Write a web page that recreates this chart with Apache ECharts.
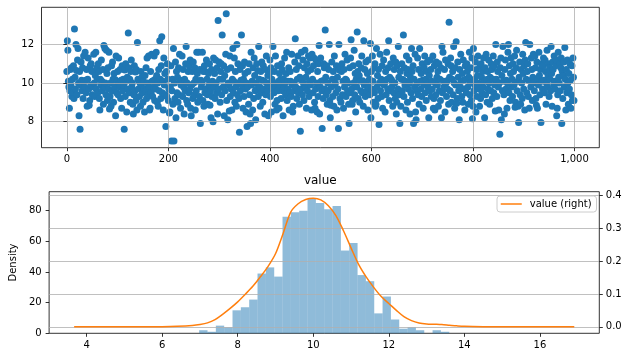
<!DOCTYPE html>
<html><head><meta charset="utf-8">
<script src="https://cdn.jsdelivr.net/npm/echarts@6/dist/echarts.min.js"></script>
<style>html,body{margin:0;padding:0;background:#fff}#c{width:628px;height:357px}</style>
</head><body><div id="c"></div>
<script>
// ---- data ----
const scatterValues = [
10.6,12.2,11.7,10.1,9.8,8.7,9.6,10.7,9.9,10.8,9.3,10.2,9.5,10.9,9.2,12.8,10.3,9.7,12.0,10.65,
9.4,11.2,11.8,10.0,8.3,10.6,7.6,9.9,11.1,10.15,9.6,10.8,9.2,11.4,10.1,9.8,11.6,10.15,9.5,10.7,
8.8,10.2,11.3,9.7,8.85,9.1,10.9,9.9,11.0,10.62,9.4,10.6,9.8,11.5,10.0,9.3,10.4,11.6,9.7,10.8,
10.2,9.5,11.0,10.6,9.2,8.6,10.2,9.9,11.2,10.1,9.6,10.7,8.9,11.95,9.8,11.8,10.0,9.4,11.7,10.5,
9.1,10.8,9.7,11.6,8.65,9.3,10.0,8.8,10.9,9.6,11.1,10.2,9.0,10.5,9.8,10.18,8.3,11.4,9.5,10.1,
10.6,9.4,11.3,10.0,9.8,10.7,9.2,10.15,8.7,10.9,9.6,10.2,9.9,7.6,10.68,9.3,11.0,10.1,8.5,10.3,
9.7,12.6,10.8,9.5,10.2,9.0,10.6,11.2,9.8,10.0,8.9,8.4,9.4,10.9,9.6,10.58,9.1,10.7,8.6,12.1,
10.2,9.7,10.12,9.3,10.0,8.8,10.6,9.9,10.3,9.5,9.0,10.1,9.7,8.5,10.4,9.6,10.8,9.2,11.3,10.0,
9.4,11.4,9.8,8.6,8.7,10.6,9.5,11.5,10.1,9.3,10.12,9.8,11.4,9.1,10.2,9.7,11.6,10.4,9.0,10.0,
8.8,10.7,9.6,12.2,10.2,9.2,10.9,12.4,9.5,10.1,8.6,11.3,9.9,10.5,9.4,7.75,10.6,9.3,11.0,10.2,
9.1,9.7,8.45,8.5,9.8,10.9,7.0,9.6,10.2,8.9,11.8,7.0,10.0,9.2,11.1,8.2,10.6,9.5,10.3,9.0,
10.8,9.4,11.5,10.1,8.7,9.9,10.15,11.4,9.3,10.7,9.8,8.4,10.2,9.6,11.0,11.9,9.1,10.0,8.9,10.6,
9.5,10.9,9.7,11.2,8.7,8.3,9.9,10.6,9.2,11.1,10.0,9.4,10.8,8.6,10.2,9.6,11.6,10.5,9.0,10.1,
11.6,9.3,10.7,7.9,10.15,9.8,10.0,11.6,9.1,10.6,8.8,10.9,9.5,10.6,9.7,11.2,10.2,9.4,8.9,10.5,
9.9,11.0,8.85,9.6,8.2,10.7,9.3,10.1,8.0,11.3,9.8,10.5,9.2,11.2,10.0,9.5,10.8,8.4,13.25,9.7,
11.1,10.2,9.0,10.6,11.0,9.4,12.5,10.2,9.8,10.9,8.3,10.4,9.6,11.5,13.6,9.1,10.7,8.1,10.0,9.9,
8.55,11.4,9.3,10.8,9.7,8.6,10.2,11.8,9.5,10.1,11.3,9.0,10.6,9.8,8.8,12.0,9.4,11.0,10.0,9.2,
7.45,10.7,9.6,10.15,12.5,9.9,10.9,8.7,10.2,9.3,11.1,10.5,9.7,8.5,10.0,7.75,9.8,10.6,8.9,11.0,
9.4,8.4,7.9,11.6,9.9,10.1,8.6,10.8,9.2,11.3,10.4,9.6,8.1,10.0,11.0,9.7,10.65,9.3,11.9,10.2,
9.8,8.8,10.6,9.5,11.1,10.15,9.0,10.9,9.7,10.1,8.4,10.7,9.4,11.4,10.0,9.6,10.4,8.3,9.9,10.5,
11.2,9.3,10.8,8.5,10.2,9.7,11.9,10.0,9.5,10.6,8.9,11.4,9.8,8.6,9.1,10.9,9.6,10.1,8.7,10.5,
9.9,10.18,9.2,11.0,10.7,9.6,8.3,10.2,9.8,11.3,10.0,9.4,10.5,11.6,9.1,10.1,9.7,10.8,8.6,9.5,
10.6,10.1,9.3,11.5,9.9,8.5,8.8,10.0,9.6,11.1,12.3,9.8,10.7,9.2,10.2,11.4,9.5,10.9,8.9,10.3,
7.5,9.7,11.6,10.15,9.4,11.2,10.0,9.1,10.8,11.7,9.8,10.3,8.7,11.0,9.6,10.6,11.4,9.3,10.1,11.3,
9.9,10.7,8.6,11.5,10.2,9.5,10.9,11.3,9.0,8.7,9.7,11.2,10.0,8.5,10.6,9.3,11.0,11.95,8.4,9.8,
11.3,10.1,9.6,7.65,10.12,9.2,11.0,10.8,9.7,12.75,10.3,9.4,10.9,8.9,10.0,9.6,10.7,12.0,9.1,8.2,
8.85,9.8,11.1,10.2,9.3,10.6,8.8,11.4,9.9,10.0,9.5,10.9,8.6,10.3,9.7,7.65,12.0,10.68,9.2,10.8,
9.0,10.6,11.0,9.4,10.1,8.7,10.7,9.8,11.5,10.2,9.3,10.15,11.2,9.6,10.0,8.9,7.9,10.8,9.5,11.3,
12.25,9.7,8.9,9.1,10.9,10.0,11.7,9.4,10.5,8.5,10.2,9.8,12.65,10.6,9.2,11.0,10.4,9.0,10.1,9.6,
10.8,11.4,9.5,10.12,8.8,12.2,9.9,10.7,9.3,11.1,10.0,9.6,10.5,8.6,11.2,9.8,10.2,9.4,12.05,8.2,
10.6,9.7,11.4,10.1,9.0,10.8,9.5,11.0,8.8,8.9,11.8,9.8,10.4,9.2,10.7,7.85,10.0,11.5,9.6,10.2,
9.3,10.9,8.7,10.15,11.2,9.9,10.0,8.5,10.6,9.4,11.6,10.2,9.7,10.8,12.2,9.1,10.3,9.6,11.0,10.2,
9.8,10.1,8.8,11.3,9.5,10.7,10.0,9.2,11.1,8.4,9.0,10.9,9.7,11.9,10.3,9.4,7.9,10.6,8.8,10.2,
11.0,9.6,10.18,12.5,9.3,10.8,9.9,10.1,8.6,11.4,10.5,9.0,10.7,9.7,11.2,10.0,8.4,10.3,9.5,11.8,
10.6,9.2,10.9,7.9,10.2,9.8,11.5,8.5,8.1,9.6,10.0,11.3,9.4,10.7,8.9,11.8,10.1,9.7,10.5,9.3,
11.0,10.15,8.7,9.9,10.8,11.4,9.5,10.2,9.1,10.6,11.1,9.8,10.0,8.2,10.4,9.6,11.2,10.7,9.3,10.1,
9.7,11.4,8.7,9.2,10.9,8.6,10.0,9.4,11.1,10.3,9.9,10.6,8.8,11.0,9.6,10.2,9.1,10.8,8.2,11.9,
9.5,11.6,10.1,9.8,10.7,8.5,11.2,10.0,9.3,10.12,9.7,11.0,8.9,13.15,10.3,9.6,11.3,10.9,9.0,10.2,
10.6,9.4,11.9,10.0,8.7,10.8,9.9,12.15,8.95,9.2,11.1,10.3,9.6,8.1,10.7,9.8,11.5,10.1,9.3,10.5,
9.0,11.2,10.15,9.7,8.6,10.9,10.2,9.5,11.0,10.6,9.8,8.9,10.3,11.6,9.4,10.0,10.8,9.1,11.3,8.15,
8.8,11.8,9.6,10.2,9.9,11.1,8.5,10.7,9.3,10.4,11.4,10.0,9.7,8.8,10.9,9.2,11.0,10.3,9.5,10.6,
9.8,11.3,10.1,8.2,10.8,9.4,11.5,10.18,9.0,10.6,9.7,11.2,10.0,8.9,10.3,9.6,11.0,10.7,9.2,10.2,
11.4,9.5,10.9,9.9,8.55,12.0,10.2,9.3,11.1,10.6,9.8,8.6,10.0,7.35,10.8,11.3,8.1,10.4,9.6,11.9,
10.1,9.4,8.4,10.7,11.2,9.7,10.15,8.7,10.0,11.6,12.0,9.5,10.9,9.1,10.5,11.3,9.8,10.2,9.3,11.0,
10.6,9.9,11.4,8.75,9.0,10.8,11.7,9.6,10.1,8.8,7.95,10.3,11.1,9.4,8.9,10.7,10.0,9.2,11.5,10.5,
9.7,10.9,8.6,11.2,12.1,10.2,9.5,10.6,11.0,9.3,10.12,8.7,12.0,10.1,9.8,11.3,10.7,9.1,10.3,11.5,
10.0,9.6,11.4,10.8,9.2,8.85,11.1,8.7,10.2,9.9,11.6,10.4,9.4,10.7,7.95,11.0,10.1,9.7,10.9,11.3,
10.15,9.5,11.2,10.6,8.9,10.0,11.7,9.8,10.4,11.0,9.3,10.8,10.2,9.6,11.9,10.5,8.8,11.1,10.7,9.9,
11.4,10.1,9.7,10.9,11.2,8.3,8.7,9.4,11.6,10.3,10.0,11.0,9.6,10.8,11.3,7.9,10.6,9.2,10.4,11.1,
9.8,11.85,10.2,8.6,10.7,9.5,11.2,10.0,8.9,10.5,9.7,11.0,10.15,8.7,9.4,10.9,9.1,11.3,10.3,9.1
];
const topXTicks = [0, 200, 400, 600, 800, 1000];
const topYTicks = [8, 10, 12];

const histMin = 6.98;
const histMax = 13.6;
const histCounts = [2,1,5,4,15,17,22,39,43,37,76,79,80,88,85,81,83,54,59,38,34,13,24,9,3,4,2,0,2,1];

const kdeX = [3.67,5.0,6.0,6.4,6.8,7.0,7.2,7.4,7.6,7.8,8.0,8.2,8.4,8.6,8.8,9.0,9.2,9.4,9.6,9.8,10.0,10.2,10.4,10.6,10.8,11.0,11.2,11.4,11.6,11.8,12.0,12.2,12.4,12.6,12.8,13.0,13.2,13.4,13.6,13.8,14.0,14.5,15.0,16.91];
const kdeY = [0,0,0.0005,0.0015,0.004,0.007,0.012,0.022,0.038,0.056,0.076,0.099,0.123,0.152,0.183,0.222,0.283,0.348,0.374,0.387,0.391,0.386,0.368,0.338,0.292,0.24,0.19,0.152,0.12,0.092,0.071,0.05,0.031,0.019,0.012,0.009,0.008,0.007,0.005,0.003,0.0015,0.0003,0,0];

const bottomXTicks = [4, 6, 8, 10, 12, 14, 16];
const leftYTicks = [0, 20, 40, 60, 80];
const rightYTicks = [0, 0.1, 0.2, 0.3, 0.4];

// ---- chart ----
const FONT = 'DejaVu Sans';
const chart = echarts.init(document.getElementById('c'), null, {renderer: 'canvas'});
const binW = (histMax - histMin) / histCounts.length;
const histData = histCounts.map((c, k) => [histMin + k * binW, histMin + (k + 1) * binW, c]);

function axisCommon(ticks, extra) {
  return Object.assign({
    type: 'value',
    axisLine: {show: false},
    axisTick: {show: true, length: 3.5, customValues: ticks, lineStyle: {color: '#000', width: 0.8}},
    axisLabel: {customValues: ticks, fontSize: 10, color: '#000', fontFamily: FONT},
    splitLine: {show: false},
    z: 3
  }, extra);
}
const gridLine = {show: true, lineStyle: {color: '#b0b0b0', width: 0.8}};

chart.setOption({
  animation: false,
  backgroundColor: '#fff',
  title: {
    text: 'value', left: 320.3, top: 175, textAlign: 'center', padding: 0,
    textStyle: {fontSize: 12, fontWeight: 'normal', color: '#000', fontFamily: FONT}
  },
  legend: {
    data: ['value (right)'], left: 497, top: 196, orient: 'vertical',
    backgroundColor: '#fff', borderColor: '#cccccc', borderWidth: 1, borderRadius: 3,
    padding: [3, 5, 3, 3], itemWidth: 21, itemHeight: 10, itemGap: 0,
    itemStyle: {opacity: 0},
    lineStyle: {color: '#ff7f0e', width: 1.5, opacity: 1},
    textStyle: {fontSize: 10, color: '#000', fontFamily: FONT, padding: [0, 0, 0, 3]}
  },
  grid: [
    {left: 41.5, top: 7.3, width: 557.8, height: 140.4, show: true, borderColor: '#000', borderWidth: 0.8},
    {left: 41.3, top: 191.7, width: 558, height: 141.6, show: true, borderColor: '#000', borderWidth: 0.8}
  ],
  xAxis: [
    axisCommon(topXTicks, {gridIndex: 0, min: -49.95, max: 1048.95, splitLine: gridLine,
      axisLabel: {customValues: topXTicks, fontSize: 10, color: '#000', fontFamily: FONT, margin: 7}}),
    axisCommon(bottomXTicks, {gridIndex: 1, min: 3.008, max: 17.572,
      axisLabel: {customValues: bottomXTicks, fontSize: 10, color: '#000', fontFamily: FONT, margin: 7}})
  ],
  yAxis: [
    axisCommon(topYTicks, {gridIndex: 0, min: 6.649, max: 13.931, splitLine: gridLine,
      axisLabel: {customValues: topYTicks, fontSize: 10, color: '#000', fontFamily: FONT, margin: 7.5}}),
    axisCommon(leftYTicks, {gridIndex: 1, min: 0, max: 92.4,
      name: 'Density', nameLocation: 'middle', nameGap: 25,
      nameTextStyle: {fontSize: 10, color: '#000', fontFamily: FONT},
      axisLabel: {customValues: leftYTicks, fontSize: 10, color: '#000', fontFamily: FONT, margin: 7.5}}),
    axisCommon(rightYTicks, {gridIndex: 1, position: 'right', min: -0.0196, max: 0.4106, splitLine: gridLine,
      axisLabel: {customValues: rightYTicks, fontSize: 10, color: '#000', fontFamily: FONT, margin: 6.5,
        formatter: v => v.toFixed(1)}})
  ],
  series: [
    {
      type: 'scatter', xAxisIndex: 0, yAxisIndex: 0,
      data: scatterValues.map((v, i) => [i, v]),
      symbolSize: 7, itemStyle: {color: '#1f77b4', opacity: 1}, z: 2,
      emphasis: {disabled: true}, silent: true
    },
    {
      type: 'custom', xAxisIndex: 1, yAxisIndex: 1, data: histData, z: 1,
      encode: {x: [0, 1], y: 2}, silent: true,
      renderItem: function (params, api) {
        const p0 = api.coord([api.value(0), api.value(2)]);
        const p1 = api.coord([api.value(1), 0]);
        return {type: 'rect', shape: {x: p0[0], y: p0[1], width: p1[0] - p0[0], height: p1[1] - p0[1]},
          style: {fill: 'rgba(31,119,180,0.5)'}};
      }
    },
    {
      name: 'value (right)', type: 'line', xAxisIndex: 1, yAxisIndex: 2,
      data: kdeX.map((x, i) => [x, kdeY[i]]), smooth: 0.3, symbol: 'none',
      lineStyle: {color: '#ff7f0e', width: 1.5}, itemStyle: {color: '#ff7f0e'}, z: 5, silent: true
    }
  ]
});
</script>
</body></html>
